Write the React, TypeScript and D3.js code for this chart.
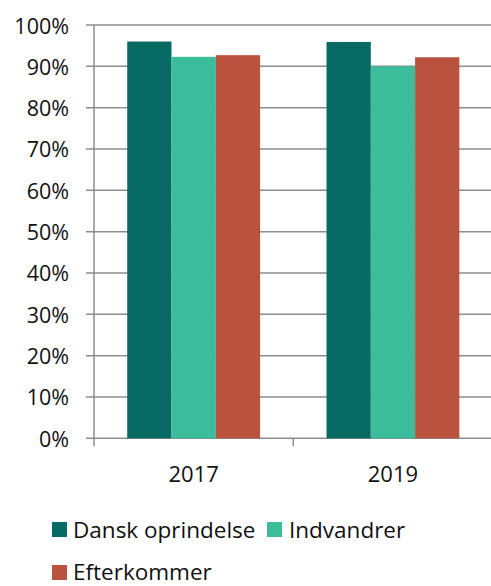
import React from 'react';
import * as d3 from 'd3';

const years = ['2017', '2019'];
const seriesNames = ['Dansk oprindelse', 'Indvandrer', 'Efterkommer'];
const seriesColors = ['#076b63', '#3bbd9c', '#b9533f'];
const danskValues = [0.96, 0.959];
const indvandrerValues = [0.923, 0.90];
const efterkommerValues = [0.927, 0.922];
const yTicks = [0, 0.1, 0.2, 0.3, 0.4, 0.5, 0.6, 0.7, 0.8, 0.9, 1.0];

const allValues = [danskValues, indvandrerValues, efterkommerValues];

const width = 491;
const height = 586;
const left = 94;
const right = 492.6;
const top = 25;
const bottom = 438.3;
const font = "'Open Sans', 'Noto Sans', sans-serif";

const App = () => {
    const x = d3.scaleBand().domain(years).range([left, right]).paddingInner(0).paddingOuter(0);
    const inner = d3
        .scaleBand()
        .domain(seriesNames)
        .range([0, x.bandwidth()])
        .paddingOuter(0.75)
        .paddingInner(0);
    const y = d3.scaleLinear().domain([0, 1]).range([bottom, top]);
    const pct = d3.format('.0%');

    const boundaries = [left, ...years.map((yr) => (x(yr) as number) + x.bandwidth())];

    return (
        <svg
            width={width}
            height={height}
            style={{ position: 'absolute', left: 0, top: 0 }}
        >
            {yTicks.map((t) => (
                <g key={t}>
                    <line
                        x1={left - 8}
                        x2={right}
                        y1={y(t)}
                        y2={y(t)}
                        stroke='#8c8c8c'
                        strokeWidth={1.5}
                    />
                    <text
                        x={69}
                        y={y(t)}
                        textAnchor='end'
                        dominantBaseline='central'
                        fontFamily={font}
                        fontSize={21.5}
                        fill='#111'
                    >
                        {pct(t)}
                    </text>
                </g>
            ))}
            {years.map((yr, i) => (
                <g key={yr}>
                    {seriesNames.map((s, j) => (
                        <rect
                            key={s}
                            x={(x(yr) as number) + (inner(s) as number)}
                            y={y(allValues[j][i])}
                            width={inner.bandwidth()}
                            height={bottom - y(allValues[j][i])}
                            fill={seriesColors[j]}
                        />
                    ))}
                    <text
                        x={(x(yr) as number) + x.bandwidth() / 2}
                        y={473}
                        textAnchor='middle'
                        dominantBaseline='central'
                        fontFamily={font}
                        fontSize={22}
                        fill='#111'
                    >
                        {yr}
                    </text>
                </g>
            ))}
            <line x1={left} x2={left} y1={top} y2={bottom + 8} stroke='#8c8c8c' strokeWidth={1.5} />
            {boundaries.slice(1).map((b, i) => (
                <line key={i} x1={b} x2={b} y1={bottom} y2={bottom + 8} stroke='#8c8c8c' strokeWidth={1.5} />
            ))}
            {/* legend */}
            <rect x={52} y={522} width={15} height={15} fill={seriesColors[0]} />
            <text x={73} y={529.5} dominantBaseline='central' fontFamily={font} fontSize={22.5} fill='#111'>
                {seriesNames[0]}
            </text>
            <rect x={267} y={522} width={15} height={15} fill={seriesColors[1]} />
            <text x={289} y={529.5} dominantBaseline='central' fontFamily={font} fontSize={22.5} fill='#111'>
                {seriesNames[1]}
            </text>
            <rect x={52} y={565} width={15} height={15} fill={seriesColors[2]} />
            <text x={73} y={571} dominantBaseline='central' fontFamily={font} fontSize={22.5} fill='#111'>
                {seriesNames[2]}
            </text>
        </svg>
    );
};

export default App;
